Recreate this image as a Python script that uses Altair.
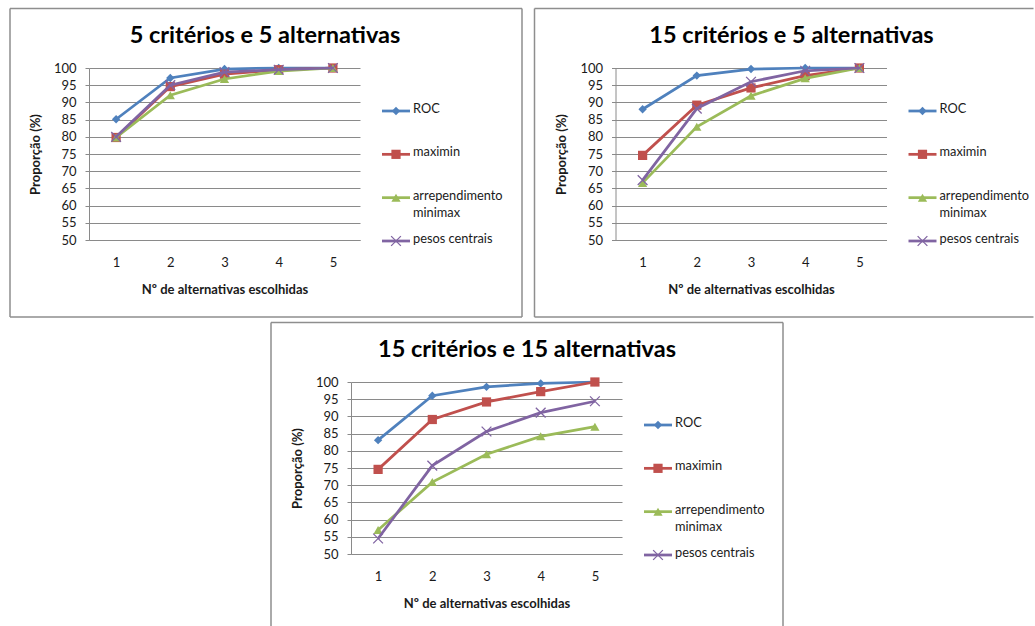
import altair as alt
import pandas as pd

# Number of chosen alternatives (x axis)
X_VALS = [1, 2, 3, 4, 5]
Y_TICKS = [50, 55, 60, 65, 70, 75, 80, 85, 90, 95, 100]

SERIES = ["ROC", "maximin", "arrependimento minimax", "pesos centrais"]
LEGEND_LABELS = ["ROC", "maximin", "arrependimento\nminimax", "pesos centrais"]

TITLES = [
    "5 critérios e 5 alternativas",
    "15 critérios e 5 alternativas",
    "15 critérios e 15 alternativas",
]
X_TITLE = "Nº de alternativas  escolhidas"
Y_TITLE = "Proporção (%)"

# 5 criteria, 5 alternatives
P1_ROC = [85.1, 97.1, 99.7, 100.0, 100.0]
P1_MAXIMIN = [79.8, 94.6, 98.2, 99.5, 100.0]
P1_ARREP = [79.8, 92.1, 96.8, 99.1, 100.0]
P1_PESOS = [80.0, 95.0, 98.8, 99.5, 100.0]

# 15 criteria, 5 alternatives
P2_ROC = [88.0, 97.8, 99.7, 100.0, 100.0]
P2_MAXIMIN = [74.6, 89.2, 94.2, 97.8, 100.0]
P2_ARREP = [66.6, 82.9, 91.9, 97.0, 100.0]
P2_PESOS = [67.4, 88.2, 96.0, 99.2, 100.0]

# 15 criteria, 15 alternatives
P3_ROC = [83.1, 96.0, 98.6, 99.6, 100.0]
P3_MAXIMIN = [74.6, 89.1, 94.2, 97.2, 100.0]
P3_ARREP = [57.0, 70.9, 79.0, 84.2, 87.0]
P3_PESOS = [54.5, 75.7, 85.6, 91.1, 94.4]

PANELS = [
    [P1_ROC, P1_MAXIMIN, P1_ARREP, P1_PESOS],
    [P2_ROC, P2_MAXIMIN, P2_ARREP, P2_PESOS],
    [P3_ROC, P3_MAXIMIN, P3_ARREP, P3_PESOS],
]

# Office-style palette and markers
COLORS = ["#4F81BD", "#C0504D", "#9BBB59", "#8064A2"]
SHAPES = ["diamond", "square", "triangle-up", "M-1,-1L1,1M-1,1L1,-1"]
FILLED = [True, True, True, False]
SIZES = [70, 85, 85, 95]
MARK_STROKE = [1, 1, 1, 1.3]

FONT = "Lato"
GRID = "#8A8A8A"
BORDER = "#8E8E8E"
TEXT = "#1A1A1A"

PW, PH = 271, 172


def one_row():
    return alt.Chart(pd.DataFrame({"k": [0]}))


def hrule(x0, x1, y, color=BORDER):
    return one_row().mark_rule(color=color, strokeWidth=1.5).encode(
        x=alt.value(x0), x2=alt.value(x1), y=alt.value(y)
    )


def vrule(x, y0, y1, color=BORDER):
    return one_row().mark_rule(color=color, strokeWidth=1.5).encode(
        x=alt.value(x), y=alt.value(y0), y2=alt.value(y1)
    )


def panel(idx, frame):
    rows = []
    for s, vals in zip(SERIES, PANELS[idx]):
        for n, v in zip(X_VALS, vals):
            rows.append({"serie": s, "n": n, "v": v})
    df = pd.DataFrame(rows)
    base = alt.Chart(df)

    x_enc = alt.X(
        "n:O",
        title=X_TITLE,
        scale=alt.Scale(type="point", padding=0.5),
        axis=alt.Axis(
            labelAngle=0, ticks=False, grid=False, domainColor=GRID,
            labelPadding=16, titlePadding=14,
        ),
    )
    y_enc = alt.Y(
        "v:Q",
        title=Y_TITLE,
        scale=alt.Scale(domain=[50, 100], nice=False, zero=False),
        axis=alt.Axis(
            values=Y_TICKS, grid=True, gridColor=GRID, domainColor=GRID,
            tickColor=GRID, tickSize=4, labelPadding=9, titlePadding=11,
        ),
    )

    series_layers = []
    for s, c, sh, f, sz, sw in zip(SERIES, COLORS, SHAPES, FILLED, SIZES, MARK_STROKE):
        sub = base.transform_filter(alt.datum.serie == s)
        series_layers.append(
            sub.mark_line(color=c, strokeWidth=2.75).encode(x=x_enc, y=y_enc)
        )
        series_layers.append(
            sub.mark_point(
                shape=sh, filled=f, color=c, size=sz, opacity=1, strokeWidth=sw
            ).encode(x=x_enc, y=y_enc)
        )
    main = alt.layer(*series_layers)

    # Legend drawn to the right of the plot: line + marker + label
    leg_df = pd.DataFrame({"serie": SERIES, "label": LEGEND_LABELS})
    leg = alt.Chart(leg_df)
    ly = alt.Y(
        "serie:N",
        scale=alt.Scale(type="point", domain=SERIES, range=[43, 173], padding=0),
        axis=None,
    )
    leg_layers = []
    for s, c, sh, f, sz, sw in zip(SERIES, COLORS, SHAPES, FILLED, SIZES, MARK_STROKE):
        sub = leg.transform_filter(alt.datum.serie == s)
        leg_layers.append(
            sub.mark_rule(color=c, strokeWidth=2.75).encode(
                x=alt.value(293), x2=alt.value(321), y=ly
            )
        )
        leg_layers.append(
            sub.mark_point(
                shape=sh, filled=f, color=c, size=sz, opacity=1, strokeWidth=sw
            ).encode(x=alt.value(307), y=ly)
        )
    leg_layers.append(
        leg.mark_text(
            align="left", baseline="top", dy=-8, font=FONT, fontSize=12.8,
            color=TEXT, lineBreak="\n", lineHeight=17,
        ).encode(x=alt.value(324), y=ly, text="label:N")
    )
    legend = alt.layer(*leg_layers)

    title = alt.Chart(pd.DataFrame({"t": [TITLES[idx]]})).mark_text(
        font=FONT, fontSize=23.5, fontWeight="bold", color="#000000",
        align="center", baseline="middle",
    ).encode(x=alt.value(176), y=alt.value(-32), text="t:N")

    return alt.layer(main, legend, title, *frame).resolve_scale(
        y="independent"
    ).properties(width=PW, height=PH)


# Panel frames (open sides run off the page edge)
frame1 = [hrule(-79, 433, -59.5), hrule(-79, 433, 249),
          vrule(-79, -59.5, 249), vrule(433, -59.5, 249)]
frame2 = [hrule(-81, 418, -59.5), hrule(-81, 418, 249), vrule(-81, -59.5, 249)]
frame3 = [hrule(-80, 432, -59.5), vrule(-80, -59.5, 244), vrule(432, -59.5, 244)]

p1 = panel(0, frame1)
p2 = panel(1, frame2)
p3 = panel(2, frame3)

# empty blank column that pushes the lower panel to the centre
spacer = one_row().mark_rule(opacity=0).encode(
    x=alt.value(0), x2=alt.value(1), y=alt.value(0)
).properties(width=181, height=1)

top = alt.hconcat(p1, p2, spacing=10.5)
bottom = alt.hconcat(spacer, p3, spacing=0)
chart = alt.vconcat(top, bottom, spacing=3).properties(
    padding={"left": 9, "top": 7, "right": 0, "bottom": 0},
    background="white",
).configure_view(stroke=None).configure_axis(
    labelFont=FONT, labelFontSize=13, labelColor=TEXT,
    titleFont=FONT, titleFontSize=13, titleFontWeight="bold", titleColor=TEXT,
)

chart.save("out.html", embed_options={"renderer": "svg", "actions": False})
